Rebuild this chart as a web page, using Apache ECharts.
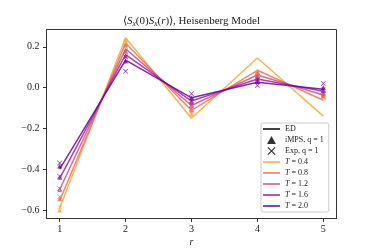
<!DOCTYPE html>
<html>
<head>
<meta charset="utf-8">
<script src="https://cdn.jsdelivr.net/npm/echarts@6/dist/echarts.min.js"></script>
<style>html,body{margin:0;padding:0;background:#fff}#c{width:374px;height:249px}</style>
</head>
<body>
<div id="c"></div>
<script>
// ---- data ----
const rVals = [1, 2, 3, 4, 5];
const temps = ['0.4', '0.8', '1.2', '1.6', '2.0'];
const colors = ['#fca636', '#ea7457', '#d4507a', '#a41d9c', '#6a00a8'];
// ED (lines)
const ed04 = [-0.59, 0.245, -0.15, 0.145, -0.14];
const ed08 = [-0.555, 0.218, -0.112, 0.085, -0.062];
const ed12 = [-0.50, 0.19, -0.088, 0.062, -0.036];
const ed16 = [-0.445, 0.162, -0.066, 0.042, -0.018];
const ed20 = [-0.40, 0.135, -0.05, 0.026, -0.008];
// iMPS (triangles)
const imps04 = [-0.60, 0.235, -0.13, 0.08, -0.045];
const imps08 = [-0.545, 0.21, -0.11, 0.075, -0.04];
const imps12 = [-0.50, 0.18, -0.09, 0.06, -0.03];
const imps16 = [-0.44, 0.155, -0.07, 0.045, -0.015];
const imps20 = [-0.385, 0.13, -0.05, 0.03, 0.0];
// Exp (crosses)
const exp04 = [-0.585, 0.225, -0.125, 0.07, -0.05];
const exp08 = [-0.535, 0.20, -0.105, 0.065, -0.035];
const exp12 = [-0.495, 0.175, -0.085, 0.055, -0.025];
const exp16 = [-0.435, 0.15, -0.065, 0.04, -0.01];
const exp20 = [-0.37, 0.08, -0.03, 0.01, 0.02];
const xTicks = [1, 2, 3, 4, 5];
const yTicks = [-0.6, -0.4, -0.2, 0.0, 0.2];

const edAll = [ed04, ed08, ed12, ed16, ed20];
const impsAll = [imps04, imps08, imps12, imps16, imps20];
const expAll = [exp04, exp08, exp12, exp16, exp20];

const serif = 'Liberation Serif';
const crossPath = 'path://M0,1L1,0L5,4L9,0L10,1L6,5L10,9L9,10L5,6L1,10L0,9L4,5Z';
const triPath = 'path://M5,0L10,9L0,9Z';
const linePath = 'path://M0,0H17V1.5H0Z';
const pair = arr => arr.map((v, i) => [rVals[i], v]);

const series = [
  {name: 'ED', type: 'line', data: [], symbol: 'none', color: '#000', lineStyle: {width: 1.5, color: '#000'}},
  {name: 'iMPS, q = 1', type: 'scatter', data: [], symbol: 'triangle', color: '#000'},
  {name: 'Exp, q = 1', type: 'scatter', data: [], symbol: crossPath, color: '#000'}
];
temps.forEach((t, i) => {
  series.push({
    name: 'T = ' + t, type: 'line', data: pair(edAll[i]), symbol: 'none',
    color: colors[i], lineStyle: {width: 1.5, color: colors[i], opacity: 0.85}, z: 2
  });
});
temps.forEach((t, i) => {
  series.push({
    name: 'iMPS ' + t, type: 'scatter', data: pair(impsAll[i]), symbol: 'triangle', symbolSize: 5,
    itemStyle: {color: colors[i], opacity: 0.8}, z: 3
  });
  series.push({
    name: 'Exp ' + t, type: 'scatter', data: pair(expAll[i]), symbol: crossPath, symbolSize: 5,
    itemStyle: {color: colors[i], opacity: 0.8}, z: 3
  });
});

const legendData = [
  {name: 'ED', icon: linePath},
  {name: 'iMPS, q = 1', icon: triPath},
  {name: 'Exp, q = 1', icon: crossPath}
].concat(temps.map(t => ({name: 'T = ' + t, icon: linePath})));

const chart = echarts.init(document.getElementById('c'), null, {renderer: 'canvas'});
chart.setOption({
  animation: false,
  backgroundColor: '#fff',
  grid: {left: 46.5, right: 37.5, top: 29.5, bottom: 30.5, show: true, borderColor: '#333', borderWidth: 1,
    backgroundColor: 'transparent', containLabel: false, outerBoundsMode: 'none'},
  graphic: [{
    type: 'text', x: 191.5, y: 21, z: 10,
    style: {
      text: '{n|⟨}{i|S}{s|x}{n|(0)}{i|S}{s|x}{n|(}{i|r}{n|)⟩, Heisenberg Model}',
      align: 'center', verticalAlign: 'middle',
      rich: {
        n: {fontFamily: serif, fontSize: 11, fill: '#222', lineHeight: 14, verticalAlign: 'middle'},
        i: {fontFamily: serif, fontSize: 11, fontStyle: 'italic', fill: '#222', lineHeight: 14, verticalAlign: 'middle'},
        s: {fontFamily: serif, fontSize: 7.5, fontStyle: 'italic', fill: '#222', lineHeight: 14, verticalAlign: 'bottom'}
      }
    }
  }],
  xAxis: {
    type: 'value', min: 0.8, max: 5.2,
    name: 'r', nameLocation: 'middle', nameGap: 19, nameMoveOverlap: false,
    nameTextStyle: {fontFamily: serif, fontSize: 10, fontStyle: 'italic', color: '#222'},
    axisLine: {show: true, onZero: false, lineStyle: {color: '#333', width: 1}},
    axisTick: {show: true, inside: false, length: 3.5, lineStyle: {color: '#333'}, customValues: xTicks},
    axisLabel: {margin: 6, fontFamily: serif, fontSize: 10, color: '#222', customValues: xTicks, formatter: v => String(v)},
    splitLine: {show: false}
  },
  yAxis: {
    type: 'value', min: -0.642, max: 0.285,
    axisLine: {show: true, onZero: false, lineStyle: {color: '#333', width: 1}},
    axisTick: {show: true, inside: false, length: 3.5, lineStyle: {color: '#333'}, customValues: yTicks},
    axisLabel: {margin: 7, fontFamily: serif, fontSize: 10, color: '#222', customValues: yTicks,
      formatter: v => (v < -1e-9 ? '\u2212' : '') + Math.abs(v).toFixed(1)},
    splitLine: {show: false}
  },
  legend: {
    data: legendData,
    orient: 'vertical', left: 261, top: 123,
    itemWidth: 17, itemHeight: 8, itemGap: 3,
    padding: [2, 5, 2, 2],
    backgroundColor: 'rgba(255,255,255,0.85)', borderColor: '#ccc', borderWidth: 1, borderRadius: 2,
    textStyle: {fontFamily: serif, fontSize: 8, color: '#222',
      rich: {i: {fontFamily: serif, fontSize: 8, fontStyle: 'italic', color: '#222'}}},
    formatter: name => name.startsWith('T = ') ? '{i|T} = ' + name.slice(4) : name,
    selectedMode: false
  },
  series: series
});
</script>
</body>
</html>
